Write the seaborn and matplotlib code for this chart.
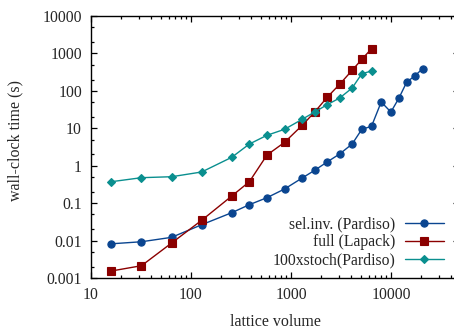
import numpy as np
import pandas as pd
import matplotlib
matplotlib.use("Agg")
import matplotlib.pyplot as plt
import matplotlib.ticker as mticker
import seaborn as sns

# lattice volumes
vol_selinv = [16, 32, 64, 128, 256, 384, 576, 864, 1296, 1728, 2304, 3072,
              4096, 5120, 6400, 8000, 10000, 12000, 14400, 17280, 20736]
t_selinv = [0.0082, 0.0093, 0.0122, 0.0265, 0.0556, 0.091, 0.14, 0.239, 0.47,
            0.754, 1.26, 2.06, 3.8, 9.4, 11.3, 50.4, 27.2, 63.2, 172, 249, 391]

vol_full = [16, 32, 64, 128, 256, 384, 576, 864, 1296, 1728, 2304, 3072,
            4096, 5120, 6400]
t_full = [0.00154, 0.00213, 0.0086, 0.0348, 0.155, 0.374, 1.93, 4.22, 12.0,
          27.2, 67.3, 150, 354, 697, 1337]

vol_stoch = [16, 32, 64, 128, 256, 384, 576, 864, 1296, 1728, 2304, 3072,
             4096, 5120, 6400]
t_stoch = [0.374, 0.479, 0.508, 0.68, 1.68, 3.8, 6.5, 9.4, 17.4, 27.2, 42.7,
           64.4, 119, 287, 339]

labels = ["sel.inv. (Pardiso)", "full (Lapack)", "100xstoch(Pardiso)"]
colors = ["#0a4590", "#8b0000", "#0a8f8f"]
markers = ["o", "s", "D"]
msizes = [5.2, 5.2, 3.6]

yticks = [0.001, 0.01, 0.1, 1, 10, 100, 1000, 10000]
ytick_labels = ["0.001", "0.01", "0.1", "1", "10", "100", "1000", "10000"]
xticks = [10, 100, 1000, 10000]
xtick_labels = ["10", "100", "1000", "10000"]

sns.set_style("ticks")
plt.rcParams["font.family"] = ["Liberation Serif", "DejaVu Serif"]
plt.rcParams["font.size"] = 11.3

fig = plt.figure(figsize=(4.54, 3.31), dpi=100)
ax = fig.add_axes([91 / 454, 1 - 278 / 331, 368 / 454, 262 / 331])

series = [(vol_selinv, t_selinv), (vol_full, t_full), (vol_stoch, t_stoch)]
for (v, t), lab, c, m, ms in zip(series, labels, colors, markers, msizes):
    df = pd.DataFrame({"volume": v, "time": t})
    sns.lineplot(data=df, x="volume", y="time", ax=ax, color=c, marker=m,
                 markersize=ms, markeredgecolor=c, markeredgewidth=0.8,
                 linewidth=1.0, label=lab, sort=False)

ax.set_xscale("log")
ax.set_yscale("log")
ax.set_xlim(10, 48000)
ax.set_ylim(0.001, 10000)

ax.set_xticks(xticks, xtick_labels)
ax.set_yticks(yticks, ytick_labels)
ax.xaxis.set_minor_locator(mticker.LogLocator(base=10, subs=np.arange(2, 10)))
ax.yaxis.set_minor_locator(mticker.LogLocator(base=10, subs=(2.0, 5.0)))
ax.xaxis.set_minor_formatter(mticker.NullFormatter())
ax.yaxis.set_minor_formatter(mticker.NullFormatter())

ax.tick_params(which="both", direction="in", top=True, right=True,
               color="black", width=0.9, labelsize=11.3)
ax.tick_params(which="major", length=4.5, pad=6.5)
ax.tick_params(which="minor", length=2.3)
for s in ax.spines.values():
    s.set_visible(True)
    s.set_linewidth(1.0)
    s.set_color("black")

ax.set_xlabel("lattice volume", fontsize=11.5)
ax.set_ylabel("wall-clock time (s)", fontsize=11.5)
ax.xaxis.set_label_coords(0.5, -0.138)
ax.yaxis.set_label_coords(-0.183, 0.523)

ax.legend(loc="lower right", bbox_to_anchor=(444 / 454, 1 - 268 / 331),
          bbox_transform=fig.transFigure, frameon=False, markerfirst=False,
          borderpad=0, borderaxespad=0, handlelength=2.5, handletextpad=0.6,
          labelspacing=0.1, fontsize=11.3)

fig.savefig("out.png", dpi=100)
